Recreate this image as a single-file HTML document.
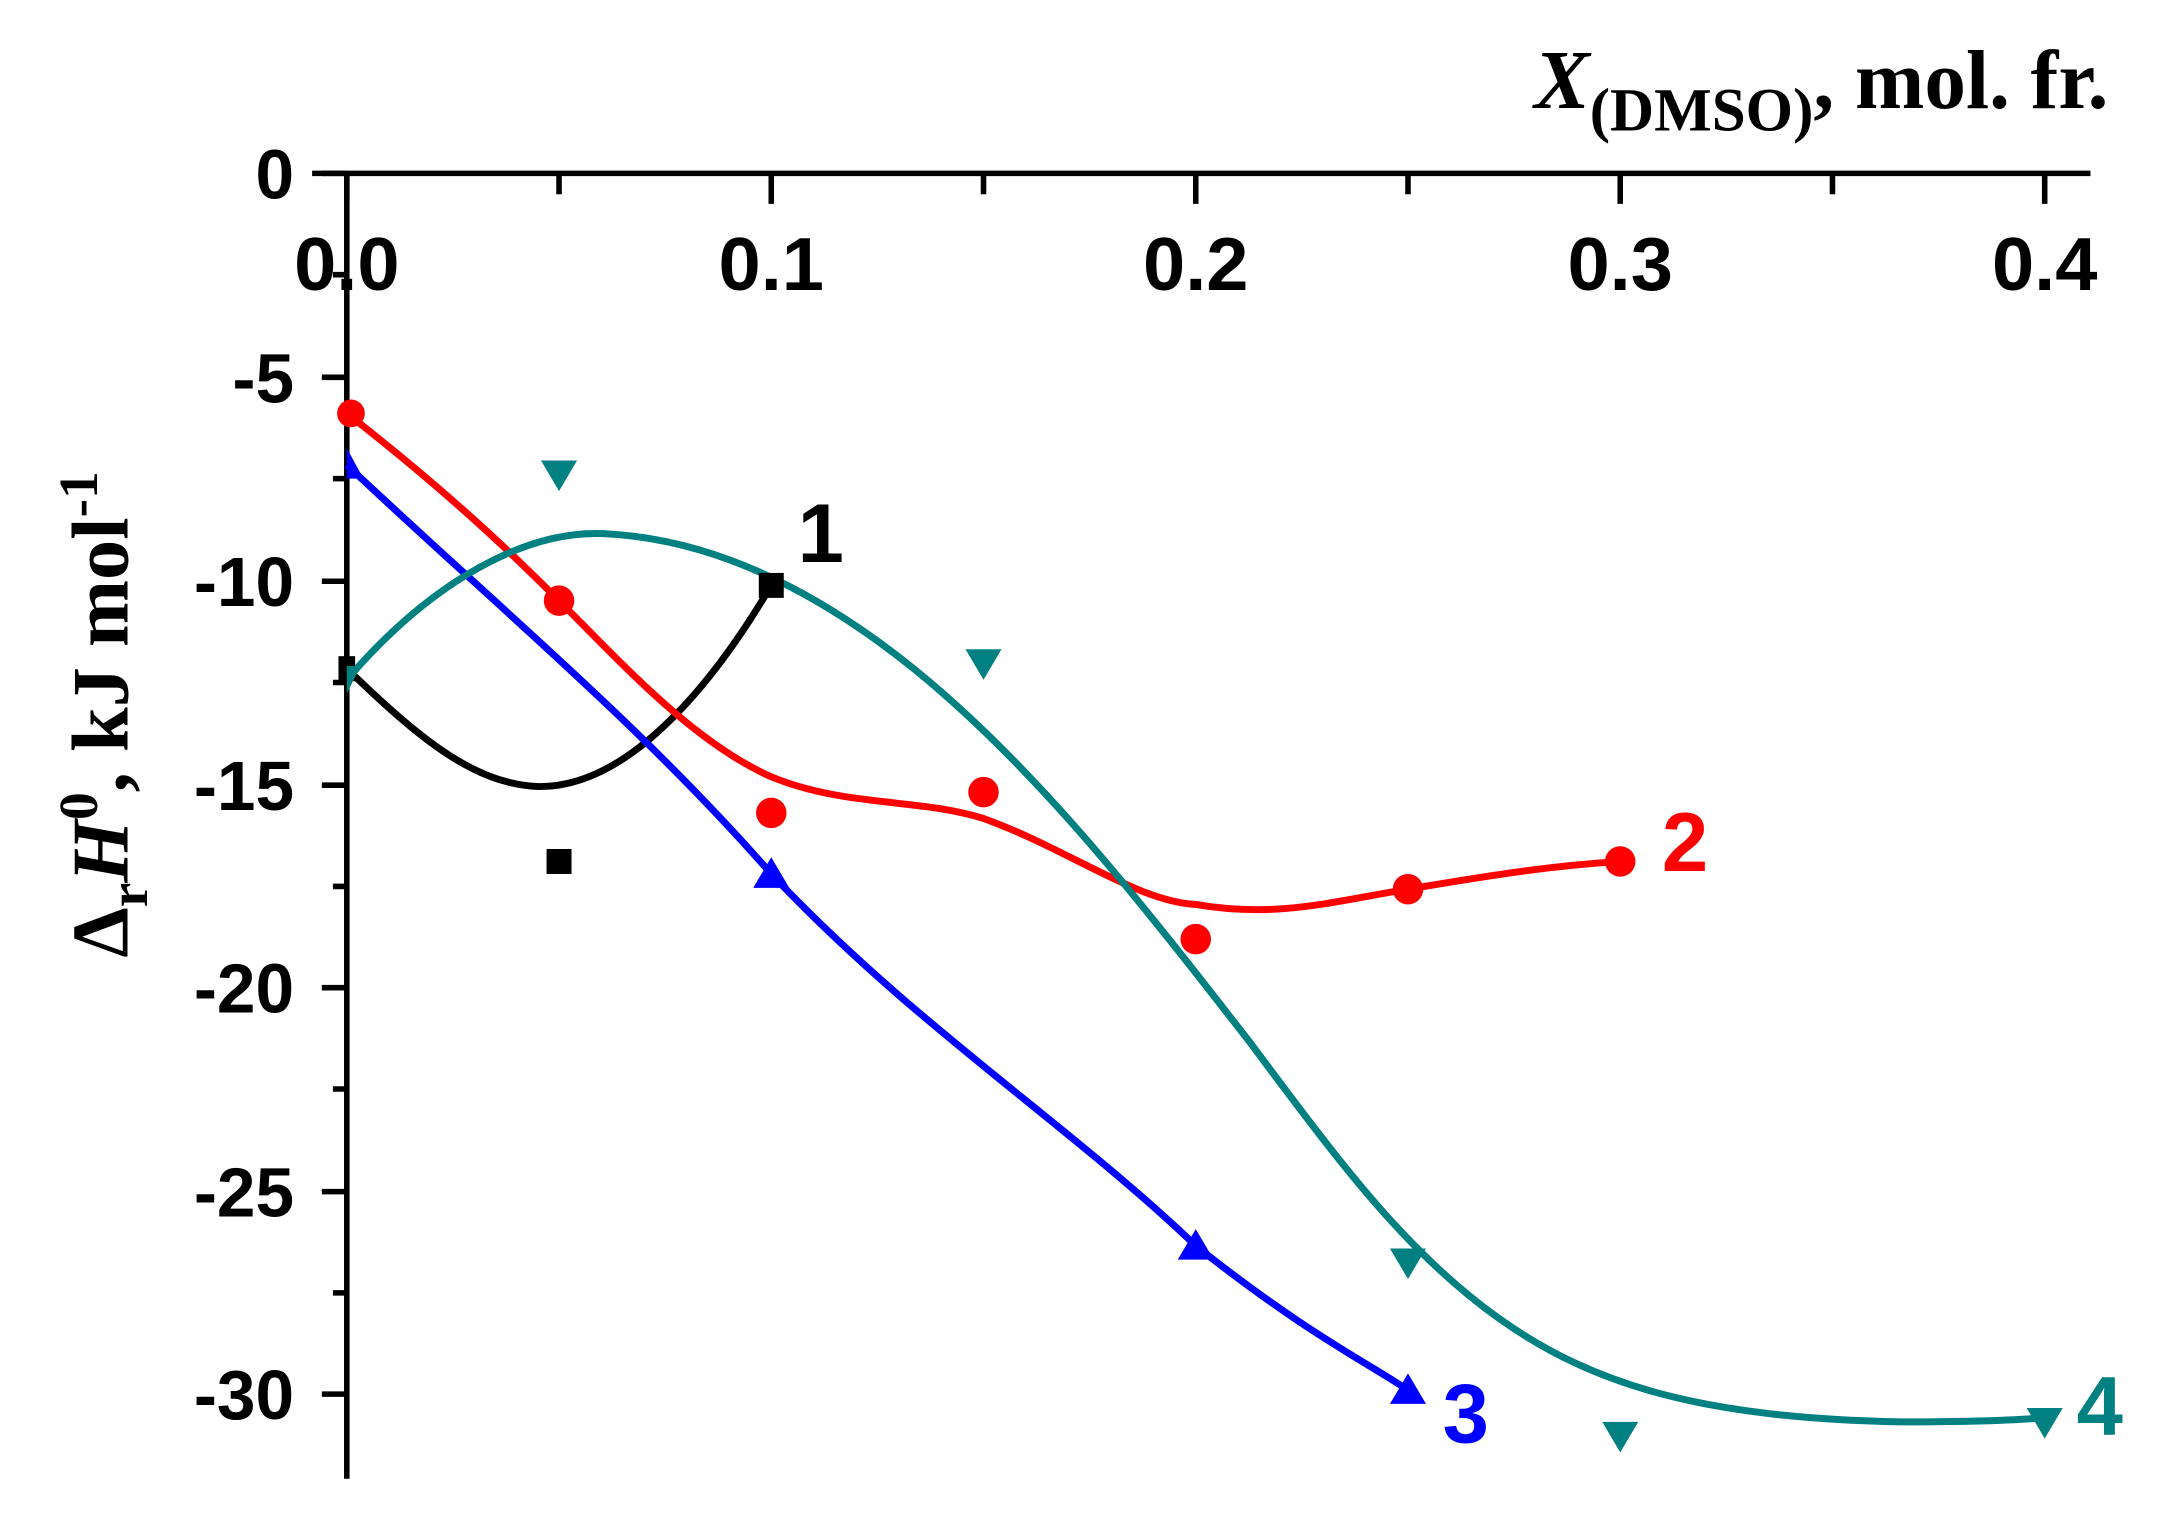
<!DOCTYPE html>
<html><head><style>html,body{margin:0;padding:0;background:#fff}svg{display:block}</style></head>
<body>
<svg width="2164" height="1524" viewBox="0 0 1560 1098.6" preserveAspectRatio="none" xmlns="http://www.w3.org/2000/svg" font-family="'Liberation Sans', sans-serif" font-weight="bold">
<rect width="1560" height="1099" fill="#fff"/>
<g stroke="#000" stroke-width="4" fill="none">
<line x1="225" y1="125" x2="1507" y2="125"/>
<line x1="250" y1="125" x2="250" y2="1066"/>
<path d="M403 125v15M709 125v15M1015 125v15M1321 125v15M250 125v22M556 125v22M862 125v22M1168 125v22M1474 125v22"/>
<path d="M232 125h18M232 272h18M232 419h18M232 566h18M232 712h18M232 859h18M232 1005h18M240 198h10M240 345h10M240 492h10M240 639h10M240 785h10M240 932h10"/>
</g>
<g font-size="54" text-anchor="middle">
<text x="250" y="209" textLength="76" lengthAdjust="spacingAndGlyphs">0.0</text><text x="556" y="209" textLength="76" lengthAdjust="spacingAndGlyphs">0.1</text><text x="862" y="209" textLength="76" lengthAdjust="spacingAndGlyphs">0.2</text><text x="1168" y="209" textLength="76" lengthAdjust="spacingAndGlyphs">0.3</text><text x="1474" y="209" textLength="76" lengthAdjust="spacingAndGlyphs">0.4</text>
</g>
<g font-size="50" text-anchor="end">
<text x="212" y="143">0</text><text x="212" y="290">-5</text><text x="212" y="437">-10</text><text x="212" y="584">-15</text><text x="212" y="730">-20</text><text x="212" y="877">-25</text><text x="212" y="1023">-30</text>
</g>
<text x="1520" y="78" text-anchor="end" font-family="'Liberation Serif', serif" font-size="60"><tspan font-style="italic">X</tspan><tspan font-size="44" dy="16">(DMSO)</tspan><tspan dy="-16">, mol. fr.</tspan></text>
<text transform="translate(92,515) rotate(-90)" text-anchor="middle" font-family="'Liberation Serif', serif" font-size="58">Δ<tspan font-size="40" dy="14">r</tspan><tspan font-style="italic" dy="-14">H</tspan><tspan font-size="40" dy="-22">0</tspan><tspan dy="22">, kJ mol</tspan><tspan font-size="40" dy="-22">-1</tspan></text>
<g fill="none" stroke-width="5" stroke-linejoin="round">
<path stroke="#000" d="M250 482 C300 530,340 565,388 567 C450 568,510 500,556 422"/>
<path stroke="#f00" d="M250 298 C330 360,380 410,403 433 C450 480,500 535,556 560 C610 582,660 575,709 590 C770 612,820 650,862 652 C920 662,960 650,1015 641 C1080 630,1120 624,1168 621"/>
<path stroke="#00f" d="M250 335 C350 430,460 520,556 630 C660 740,770 810,862 898 C940 960,985 982,1015 1002"/>
<path stroke="#008080" d="M250 490 C310 420,380 380,440 385 C520 390,600 430,680 500 C760 570,830 660,900 750 C960 830,1010 900,1080 950 C1150 1000,1230 1022,1370 1025 C1420 1025,1450 1024,1474 1022"/>
</g>
<g fill="#000"><rect x="547" y="413" width="18" height="18"/><rect x="394" y="612" width="18" height="18"/><rect x="244" y="473" width="12" height="18"/></g>
<g fill="#f00"><circle cx="253" cy="298" r="10"/><circle cx="403" cy="433" r="11"/><circle cx="556" cy="586" r="11"/><circle cx="709" cy="571" r="11"/><circle cx="862" cy="677" r="11"/><circle cx="1015" cy="641" r="11"/><circle cx="1168" cy="621" r="11"/></g>
<g fill="#00f"><path d="M250 323l12 22h-12z"/><path d="M556 618l13 22h-26z"/><path d="M862 886l13 22h-26z"/><path d="M1015 990l13 22h-26z"/></g>
<g fill="#008080"><path d="M390 332h26l-13 22z"/><path d="M696 468h26l-13 22z"/><path d="M1002 900h26l-13 22z"/><path d="M1155 1025h26l-13 22z"/><path d="M1461 1015h26l-13 22z"/><path d="M250 480h10l-10 20z"/></g>
<g font-size="60"><text x="575" y="405" fill="#000">1</text><text x="1198" y="628" fill="#f00">2</text><text x="1040" y="1040" fill="#00f">3</text><text x="1497" y="1034" fill="#008080">4</text></g>
</svg>
</body></html>
